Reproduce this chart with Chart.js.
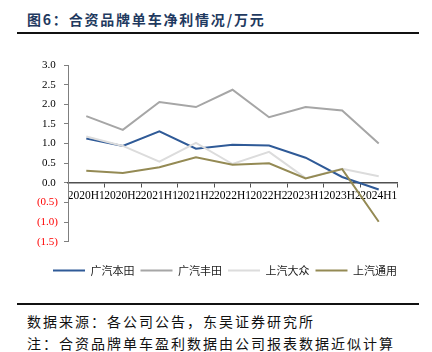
<!DOCTYPE html>
<html>
<head>
<meta charset="utf-8">
<script src="https://cdn.jsdelivr.net/npm/chart.js@4.4.1/dist/chart.umd.min.js"></script>
<style>
  html, body { margin: 0; padding: 0; background: #fff; }
  body { width: 432px; height: 352px; position: relative; overflow: hidden; }
  .title { position: absolute; left: 27px; top: 10px; font: bold 14px "Noto Sans CJK SC", sans-serif; line-height: 18px; letter-spacing: 1.8px; color: #1F3A60; white-space: nowrap; }
  .rule { position: absolute; left: 17px; width: 402px; height: 2px; background: #111; }
  .note { position: absolute; left: 27px; font: 14px "Noto Sans CJK SC", sans-serif; line-height: 18px; letter-spacing: 2px; color: #111; white-space: nowrap; }
  #wrap { position: absolute; left: 0; top: 50px; width: 432px; height: 236px; }
</style>
</head>
<body>
<div class="title">图6：合资品牌单车净利情况/万元</div>
<div class="rule" style="top:32px"></div>
<div id="wrap"><canvas id="c" width="432" height="236"></canvas></div>
<div class="rule" style="top:303px"></div>
<div class="note" style="top:312px">数据来源：各公司公告，东吴证券研究所</div>
<div class="note" style="top:334px">注：合资品牌单车盈利数据由公司报表数据近似计算</div>
<script>
const categories = ['2020H1','2020H2','2021H1','2021H2','2022H1','2022H2','2023H1','2023H2','2024H1'];
const seriesNames = ['广汽本田','广汽丰田','上汽大众','上汽通用'];
const gqHonda  = [1.13, 0.94, 1.31, 0.87, 0.97, 0.95, 0.64, 0.15, -0.17];
const gqToyota = [1.70, 1.35, 2.06, 1.93, 2.37, 1.67, 1.93, 1.84, 1.00];
const sqVW     = [1.18, 0.94, 0.54, 1.02, 0.48, 0.79, 0.12, 0.36, 0.17];
const sqGM     = [0.31, 0.25, 0.40, 0.65, 0.46, 0.50, 0.11, 0.35, -0.99];
const yTicks = { min: -1.5, max: 3.0, step: 0.5 };

const colors = ['#2F5A97', '#A6A6A6', '#DCDCDC', '#948A54'];
const values = [gqHonda, gqToyota, sqVW, sqGM];

const datasets = values.map((v, i) => ({
  label: seriesNames[i],
  data: v,
  borderColor: colors[i],
  backgroundColor: colors[i],
  borderWidth: 2,
  pointRadius: 0,
  tension: 0,
  order: 3 - i
}));

const legendShift = {
  id: 'legendShift',
  afterLayout(chart) {
    const lg = chart.legend;
    if (lg) { lg.left = 40; lg.right = 410; }
  }
};

new Chart(document.getElementById('c'), {
  type: 'line',
  data: { labels: categories, datasets },
  plugins: [legendShift],
  options: {
    responsive: false,
    animation: false,
    devicePixelRatio: 1,
    layout: { padding: { left: 0, right: 35, top: 15, bottom: 0 } },
    plugins: {
      tooltip: { enabled: false },
      legend: {
        position: 'bottom',
        align: 'center',
        title: { display: true, text: '', font: { size: 1 }, padding: { top: 0, bottom: 16 } },
        labels: {
          usePointStyle: true,
          pointStyle: 'line',
          pointStyleWidth: 32,
          padding: 6,
          color: '#222',
          font: { family: '"Noto Sans CJK SC", sans-serif', size: 11 },
          sort: (a, b) => a.datasetIndex - b.datasetIndex
        }
      }
    },
    scales: {
      x: {
        type: 'category',
        position: { y: 0 },
        offset: true,
        grid: { offset: true, drawOnChartArea: false, drawTicks: true, tickLength: 4, color: '#505050' },
        border: { display: true, color: '#505050', width: 1.5 },
        ticks: {
          autoSkip: false, maxRotation: 0, minRotation: 0, padding: 2,
          color: '#000',
          font: { family: '"Liberation Serif", "Times New Roman", serif', size: 11.5 }
        }
      },
      y: {
        min: yTicks.min,
        max: yTicks.max,
        afterFit: (s) => { s.width = 68; },
        grid: { drawOnChartArea: false, drawTicks: true, tickLength: 4, color: '#7F7F7F' },
        border: { display: true, color: '#7F7F7F', width: 1 },
        ticks: {
          stepSize: yTicks.step,
          padding: 6,
          color: (ctx) => (ctx.tick && ctx.tick.value < 0 ? '#FF0000' : '#000'),
          font: { family: '"Liberation Serif", "Times New Roman", serif', size: 11 },
          callback: (v) => (v < 0 ? '(' + (-v).toFixed(1) + ')' : v.toFixed(1) + '\u2009')
        }
      }
    }
  }
});
</script>
</body>
</html>
